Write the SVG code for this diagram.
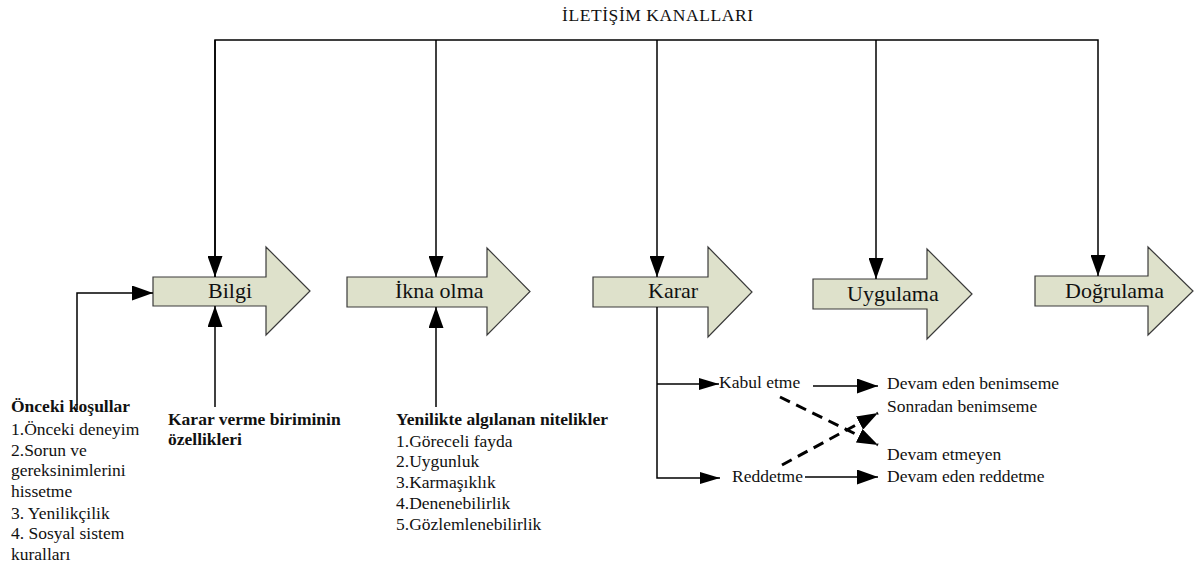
<svg xmlns="http://www.w3.org/2000/svg" width="1195" height="570" viewBox="0 0 1195 570" font-family="Liberation Serif, Times New Roman, serif">
  <style>
    .stage { fill: #dee1cb; stroke: #3a3a3a; stroke-width: 1.2; }
    .lbl { font-size: 22px; fill: #111; }
    .txt { font-size: 17.5px; fill: #111; }
    .bold { font-weight: bold; }
    .ln { fill: none; stroke: #000; stroke-width: 1.5; }
    .dash { fill: none; stroke: #000; stroke-width: 3; stroke-dasharray: 11 7; }
  </style>
  <defs>
    <marker id="ah" markerUnits="userSpaceOnUse" markerWidth="21" markerHeight="15" refX="21" refY="7.5" orient="auto">
      <path d="M0,0 L21,7.5 L0,15 z" fill="#000"/>
    </marker>
    <marker id="ahs" markerUnits="userSpaceOnUse" markerWidth="20" markerHeight="12" refX="20" refY="6" orient="auto">
      <path d="M0,0 L20,6 L0,12 z" fill="#000"/>
    </marker>
  </defs>

  <rect width="1195" height="570" fill="#fff"/>

  <!-- title -->
  <text class="txt" x="562" y="21" font-size="18" textLength="191">İLETİŞİM KANALLARI</text>

  <!-- stage arrows -->
  <g id="bilgi">
    <polygon class="stage" points="153,277 266,277 266,247 310,291 266,335 266,306 153,306"/>
    <text class="lbl" x="208" y="298">Bilgi</text>
  </g>
  <g id="ikna">
    <polygon class="stage" points="347,277 487,277 487,248 530,291.5 487,335 487,307 347,307"/>
    <text class="lbl" x="395" y="298">İkna olma</text>
  </g>
  <g id="karar">
    <polygon class="stage" points="593,277 708,277 708,247 752,292 708,337 708,307 593,307"/>
    <text class="lbl" x="648" y="298">Karar</text>
  </g>
  <g id="uygulama">
    <polygon class="stage" points="813,279 927,279 927,249 972,294 927,339 927,309 813,309"/>
    <text class="lbl" x="847" y="301">Uygulama</text>
  </g>
  <g id="dogrulama">
    <polygon class="stage" points="1035,276 1148,276 1148,247 1193,291 1148,335 1148,306 1035,306"/>
    <text class="lbl" x="1065" y="298">Doğrulama</text>
  </g>

  <!-- text blocks -->
  <g id="onceki-kosullar">
    <text class="txt" x="11" y="412"><tspan class="bold">Önceki koşullar</tspan>
      <tspan x="11" y="435">1.Önceki deneyim</tspan>
      <tspan x="11" y="456">2.Sorun ve</tspan>
      <tspan x="11" y="476">gereksinimlerini</tspan>
      <tspan x="11" y="497">hissetme</tspan>
      <tspan x="11" y="519">3. Yenilikçilik</tspan>
      <tspan x="11" y="539">4. Sosyal sistem</tspan>
      <tspan x="11" y="560">kuralları</tspan>
    </text>
  </g>
  <g id="karar-verme-birimi">
    <text class="txt bold" x="168" y="425">Karar verme biriminin<tspan x="168" y="445">özellikleri</tspan></text>
  </g>
  <g id="yenilik-nitelikleri">
    <text class="txt" x="396" y="425"><tspan class="bold">Yenilikte algılanan nitelikler</tspan>
      <tspan x="396" y="447">1.Göreceli fayda</tspan>
      <tspan x="396" y="467">2.Uygunluk</tspan>
      <tspan x="396" y="488">3.Karmaşıklık</tspan>
      <tspan x="396" y="509">4.Denenebilirlik</tspan>
      <tspan x="396" y="530">5.Gözlemlenebilirlik</tspan>
    </text>
  </g>
  <g id="karar-sonuclari">
    <text class="txt" x="719" y="388">Kabul etme</text>
    <text class="txt" x="732" y="482">Reddetme</text>
    <text class="txt" x="887" y="389">Devam eden benimseme</text>
    <text class="txt" x="887" y="412">Sonradan benimseme</text>
    <text class="txt" x="887" y="460">Devam etmeyen</text>
    <text class="txt" x="887" y="482">Devam eden reddetme</text>
  </g>

  <!-- connectors -->
  <g id="connectors">
    <!-- communication channels bus -->
    <polyline class="ln" points="215,277 215,40 1098,40 1098,276" marker-end="url(#ah)"/>
    <line class="ln" x1="436" y1="40" x2="436" y2="277" marker-end="url(#ah)"/>
    <line class="ln" x1="657" y1="40" x2="657" y2="277" marker-end="url(#ah)"/>
    <line class="ln" x1="876" y1="40" x2="876" y2="279" marker-end="url(#ah)"/>
    <line class="ln" x1="215" y1="40" x2="215" y2="277" marker-end="url(#ah)"/>

    <!-- inputs into Bilgi and İkna olma -->
    <polyline class="ln" points="77,410 77,293 153,293" marker-end="url(#ah)"/>
    <line class="ln" x1="215" y1="407" x2="215" y2="306" marker-end="url(#ah)"/>
    <line class="ln" x1="436" y1="407" x2="436" y2="307" marker-end="url(#ah)"/>

    <!-- decision branches -->
    <line class="ln" x1="657" y1="307" x2="657" y2="384"/>
    <line class="ln" x1="657" y1="384" x2="719" y2="384" marker-end="url(#ahs)"/>
    <polyline class="ln" points="657,384 657,478 720,478" marker-end="url(#ahs)"/>
    <line class="ln" x1="813" y1="386" x2="878" y2="386" marker-end="url(#ah)"/>
    <line class="ln" x1="805" y1="477" x2="878" y2="477" marker-end="url(#ah)"/>

    <!-- crossing dashed transitions -->
    <line class="dash" x1="780" y1="397" x2="878" y2="445" marker-end="url(#ah)"/>
    <line class="dash" x1="782" y1="465" x2="878" y2="413" marker-end="url(#ah)"/>
  </g>
</svg>
